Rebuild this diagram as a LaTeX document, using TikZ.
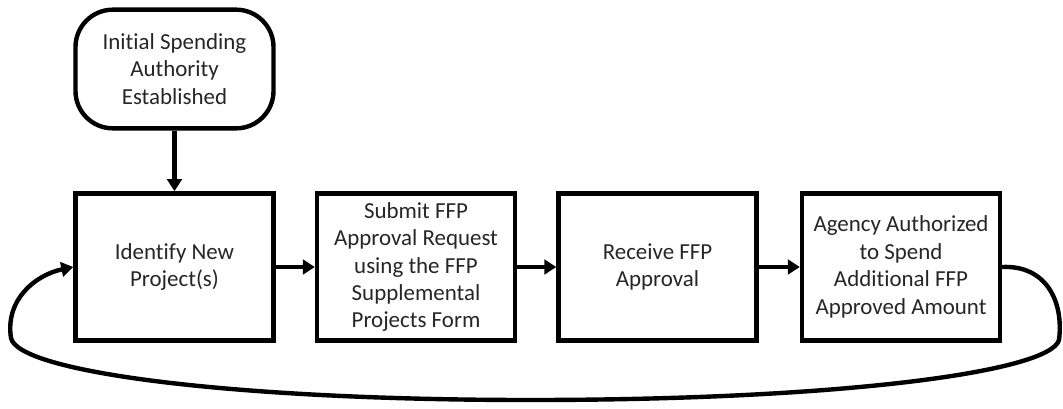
\documentclass[tikz,border=0pt]{standalone}
\usepackage{fontspec}
\setmainfont[Ligatures={NoCommon}]{Carlito}
\usetikzlibrary{arrows.meta}
\definecolor{inkgray}{HTML}{262626}
\begin{document}
\begin{tikzpicture}[x=0.75pt,y=-0.75pt,
  line width=3.3pt,
  stepbox/.style={draw=black,fill=white,minimum width=148.5pt,minimum height=110.5pt,
    align=center,inner sep=2pt,text=inkgray,
    font=\fontsize{17.2}{20.6}\selectfont},
  startbox/.style={stepbox,minimum height=89pt,rounded corners=28pt},
  flow/.style={-{Triangle[length=9pt,width=11pt]}},
]
\useasboundingbox (0,0) rectangle (1063,408);
\node[startbox] (start) at (174.5,69) {Initial Spending\\Authority\\Established};
\node[stepbox] (b1) at (174.5,267) {Identify New\\Project(s)};
\node[stepbox] (b2) at (416,267) {Submit FFP\\Approval Request\\using the FFP\\Supplemental\\Projects Form};
\node[stepbox] (b3) at (657.5,267) {Receive FFP\\Approval};
\node[stepbox] (b4) at (901,267) {Agency Authorized\\to Spend\\Additional FFP\\Approved Amount};
\draw[flow] (start) -- (b1);
\draw[flow] (b1) -- (b2);
\draw[flow] (b2) -- (b3);
\draw[flow] (b3) -- (b4);
% return loop from the last step back to the first
\coordinate (rr) at (1059,340);
\coordinate (bot) at (530,400);
\coordinate (ll) at (11,338);
\draw[flow] (b4.east) .. controls (1045,265) and (1064,300) .. (rr)
  .. controls (1050,372) and (840,400) .. (bot)
  .. controls (230,400) and (18,372) .. (ll)
  .. controls (5,300) and (35,275) .. (b1.west);
\end{tikzpicture}
\end{document}
